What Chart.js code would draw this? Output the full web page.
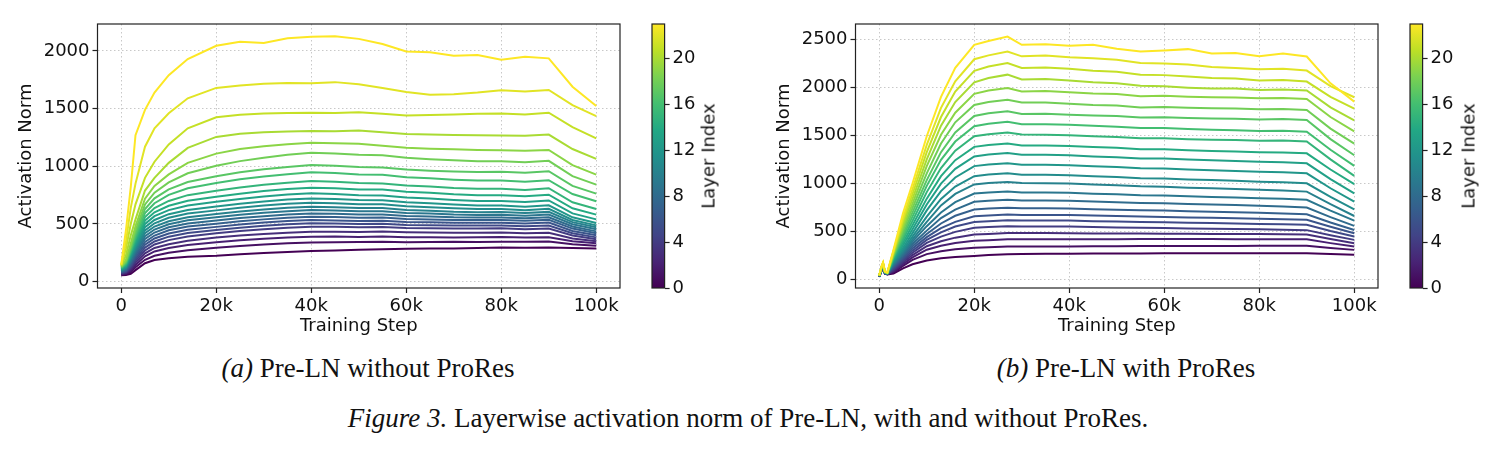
<!DOCTYPE html>
<html>
<head>
<meta charset="utf-8">
<script src="https://cdn.jsdelivr.net/npm/chart.js@4.4.1/dist/chart.umd.min.js"></script>
<style>
  body { margin: 0; background: #fff; width: 1497px; height: 449px; position: relative; overflow: hidden; }
  .panel { position: absolute; }
  .cap { position: absolute; font-family: 'Liberation Serif', 'Times New Roman', serif; font-size: 27px; color: #111; white-space: nowrap; transform: translate(-50%, -50%); }
  .cblabel { position: absolute; font-family: 'DejaVu Sans', sans-serif; font-size: 18px; color: #111; white-space: nowrap; transform: translate(-50%, -50%) rotate(-90deg); }
</style>
</head>
<body>
<div class="panel" style="left:0;top:0;width:640px;height:345px"><canvas id="chartA"></canvas></div>
<div class="panel" style="left:640px;top:0;width:110px;height:345px"><canvas id="cbarA"></canvas></div>
<div class="cblabel" style="left:708px;top:156px">Layer Index</div>

<div class="panel" style="left:758px;top:0;width:640px;height:345px"><canvas id="chartB"></canvas></div>
<div class="panel" style="left:1398px;top:0;width:110px;height:345px"><canvas id="cbarB"></canvas></div>
<div class="cblabel" style="left:1468px;top:156px">Layer Index</div>

<div class="cap" style="left:368px;top:368px"><i>(a)</i> Pre-LN without ProRes</div>
<div class="cap" style="left:1126px;top:368px"><i>(b)</i> Pre-LN with ProRes</div>
<div class="cap" style="left:748px;top:418px"><i>Figure 3.</i> Layerwise activation norm of Pre-LN, with and without ProRes.</div>

<script>
// Data: training steps, tick labels
const stepsA = [0, 1000, 2000, 3000, 5000, 7000, 10000, 14000, 20000, 25000, 30000, 35000, 40000, 45000, 50000, 55000, 60000, 65000, 70000, 75000, 80000, 85000, 90000, 95000, 100000];
const stepsB = [0, 500, 800, 1200, 1700, 3000, 5000, 7000, 10000, 13000, 16000, 20000, 23000, 27000, 30000, 35000, 40000, 45000, 50000, 55000, 60000, 65000, 70000, 75000, 80000, 85000, 90000, 95000, 100000];
const xTicks = [0, 20000, 40000, 60000, 80000, 100000];
const yTicksA = [0, 500, 1000, 1500, 2000];
const yTicksB = [0, 500, 1000, 1500, 2000, 2500];
const layerTicks = [0, 4, 8, 12, 16, 20];

// (a) Pre-LN without ProRes, one row per layer (0 .. 23)
const normsA = [
  [55, 57, 68, 100, 160, 188, 203, 215, 225, 238, 248, 258, 266, 270, 276, 280, 285, 288, 287, 292, 296, 294, 297, 292, 288],
  [60, 66, 85, 125, 190, 225, 250, 272, 295, 310, 322, 332, 340, 342, 343, 345, 342, 344, 346, 343, 347, 345, 348, 325, 312],
  [64, 72, 100, 145, 220, 262, 292, 318, 342, 358, 372, 382, 390, 392, 388, 392, 385, 386, 383, 385, 388, 382, 385, 350, 332],
  [68, 78, 112, 165, 245, 292, 325, 355, 382, 400, 414, 425, 433, 432, 430, 434, 428, 426, 424, 425, 427, 420, 424, 375, 350],
  [72, 84, 124, 182, 270, 322, 360, 392, 420, 440, 455, 468, 477, 475, 472, 474, 466, 464, 460, 460, 462, 455, 460, 400, 367],
  [76, 90, 135, 198, 295, 348, 390, 422, 448, 468, 484, 497, 506, 504, 500, 502, 492, 490, 486, 486, 487, 480, 486, 420, 384],
  [80, 96, 146, 214, 320, 374, 418, 450, 475, 496, 512, 525, 534, 531, 527, 528, 518, 515, 510, 510, 511, 505, 512, 440, 402],
  [84, 102, 158, 230, 345, 400, 446, 478, 502, 524, 540, 554, 563, 560, 555, 556, 544, 540, 535, 534, 535, 528, 536, 460, 419],
  [88, 108, 170, 246, 370, 426, 472, 505, 530, 552, 568, 582, 592, 588, 582, 583, 570, 565, 558, 556, 557, 550, 558, 478, 436],
  [92, 114, 182, 262, 395, 452, 498, 532, 558, 580, 597, 611, 621, 617, 610, 610, 596, 590, 582, 579, 580, 572, 582, 498, 454],
  [96, 120, 194, 278, 420, 478, 524, 559, 586, 608, 626, 640, 650, 646, 638, 638, 622, 615, 606, 602, 603, 595, 605, 516, 471],
  [100, 126, 206, 295, 445, 506, 554, 590, 618, 641, 660, 675, 685, 680, 672, 671, 654, 646, 636, 630, 630, 620, 632, 535, 488],
  [104, 132, 218, 312, 472, 535, 585, 622, 652, 676, 696, 712, 722, 717, 708, 706, 688, 680, 668, 660, 660, 650, 662, 558, 509],
  [108, 138, 230, 330, 500, 568, 620, 660, 692, 717, 738, 755, 766, 760, 750, 748, 730, 720, 708, 700, 700, 690, 704, 592, 540],
  [112, 145, 243, 350, 530, 602, 658, 702, 736, 763, 785, 803, 815, 810, 800, 798, 780, 770, 757, 750, 750, 740, 754, 636, 581],
  [116, 152, 256, 370, 560, 638, 700, 750, 788, 816, 840, 858, 872, 866, 856, 852, 834, 825, 812, 806, 806, 795, 810, 688, 630],
  [120, 160, 270, 392, 595, 680, 752, 810, 856, 888, 912, 932, 948, 942, 930, 926, 906, 896, 884, 876, 876, 866, 880, 760, 697],
  [124, 168, 286, 415, 630, 722, 800, 864, 914, 948, 974, 995, 1011, 1005, 994, 990, 972, 962, 955, 950, 952, 945, 958, 830, 763],
  [128, 178, 305, 445, 670, 772, 860, 940, 1005, 1045, 1075, 1100, 1118, 1112, 1100, 1096, 1075, 1062, 1052, 1045, 1045, 1035, 1048, 915, 841],
  [132, 190, 330, 480, 720, 830, 930, 1030, 1110, 1150, 1175, 1192, 1205, 1200, 1195, 1178, 1160, 1152, 1148, 1142, 1140, 1135, 1142, 1010, 928],
  [136, 230, 400, 540, 790, 900, 1030, 1160, 1255, 1282, 1296, 1302, 1306, 1304, 1310, 1295, 1280, 1275, 1272, 1270, 1268, 1265, 1275, 1150, 1064],
  [142, 290, 500, 670, 900, 1040, 1190, 1330, 1425, 1448, 1458, 1462, 1465, 1462, 1468, 1455, 1440, 1445, 1450, 1455, 1458, 1450, 1465, 1340, 1243],
  [146, 350, 640, 850, 1170, 1330, 1460, 1590, 1680, 1700, 1715, 1722, 1720, 1730, 1712, 1680, 1645, 1620, 1625, 1640, 1660, 1648, 1662, 1530, 1436],
  [150, 450, 820, 1270, 1490, 1640, 1790, 1930, 2045, 2080, 2070, 2110, 2124, 2128, 2105, 2060, 1995, 1990, 1958, 1965, 1925, 1950, 1936, 1690, 1523]
];

// (b) Pre-LN with ProRes, one row per layer (0 .. 23)
const normsB = [
  [30, 95, 110, 62, 55, 65, 118, 160, 200, 222, 235, 246, 256, 265, 268, 270, 270, 272, 273, 273, 274, 274, 274, 275, 275, 274, 274, 268, 259],
  [31, 97, 113, 63, 56, 76, 143, 206, 266, 296, 316, 333, 338, 345, 345, 345, 345, 347, 348, 349, 350, 350, 351, 351, 352, 352, 352, 330, 310],
  [31, 99, 116, 64, 57, 86, 162, 232, 312, 352, 381, 405, 411, 420, 420, 420, 420, 421, 421, 422, 422, 422, 422, 421, 421, 421, 420, 380, 345],
  [32, 101, 119, 65, 58, 97, 179, 256, 348, 400, 437, 470, 476, 485, 484, 484, 483, 481, 480, 479, 478, 477, 476, 475, 474, 472, 470, 424, 379],
  [33, 103, 122, 66, 59, 107, 194, 280, 383, 448, 497, 540, 547, 555, 553, 553, 552, 547, 543, 540, 537, 533, 530, 527, 523, 519, 515, 462, 414],
  [33, 105, 125, 67, 60, 118, 210, 302, 414, 492, 552, 600, 608, 618, 614, 614, 614, 608, 604, 600, 597, 592, 588, 584, 580, 575, 570, 506, 448],
  [34, 107, 128, 68, 60, 129, 225, 325, 442, 535, 601, 660, 668, 678, 673, 673, 672, 666, 661, 656, 652, 647, 643, 638, 633, 628, 622, 550, 483],
  [35, 109, 131, 69, 61, 139, 240, 348, 475, 584, 664, 730, 740, 748, 742, 742, 741, 733, 728, 722, 718, 712, 707, 701, 695, 688, 680, 595, 517],
  [36, 111, 134, 70, 62, 150, 256, 372, 510, 640, 729, 810, 820, 830, 822, 822, 821, 812, 805, 798, 795, 787, 782, 775, 768, 760, 750, 650, 559],
  [36, 113, 137, 71, 63, 160, 272, 395, 556, 698, 806, 895, 907, 915, 906, 906, 904, 894, 887, 878, 875, 866, 860, 854, 846, 840, 830, 718, 614],
  [37, 115, 140, 72, 64, 171, 289, 420, 600, 772, 891, 990, 1004, 1015, 1004, 1003, 1000, 988, 980, 970, 966, 956, 950, 942, 934, 926, 915, 785, 662],
  [38, 117, 143, 73, 65, 182, 307, 447, 656, 839, 968, 1075, 1092, 1105, 1090, 1090, 1086, 1074, 1066, 1055, 1052, 1042, 1035, 1027, 1018, 1012, 1001, 860, 731],
  [38, 119, 146, 74, 66, 192, 330, 484, 720, 920, 1062, 1180, 1196, 1210, 1195, 1195, 1190, 1178, 1170, 1158, 1155, 1145, 1138, 1130, 1122, 1116, 1105, 950, 810],
  [39, 121, 149, 75, 67, 203, 358, 525, 781, 998, 1152, 1280, 1300, 1315, 1298, 1298, 1293, 1280, 1272, 1260, 1258, 1248, 1240, 1233, 1225, 1220, 1209, 1045, 897],
  [40, 123, 152, 76, 68, 213, 386, 566, 842, 1076, 1242, 1380, 1400, 1415, 1395, 1395, 1390, 1378, 1370, 1356, 1355, 1345, 1338, 1332, 1325, 1322, 1313, 1145, 993],
  [41, 125, 155, 77, 68, 224, 417, 610, 910, 1160, 1340, 1490, 1512, 1530, 1508, 1506, 1500, 1490, 1482, 1470, 1470, 1460, 1455, 1450, 1443, 1445, 1435, 1250, 1079],
  [41, 127, 158, 78, 69, 235, 447, 655, 975, 1245, 1435, 1595, 1620, 1640, 1615, 1615, 1610, 1598, 1590, 1575, 1575, 1565, 1558, 1552, 1545, 1546, 1538, 1350, 1183],
  [42, 129, 161, 79, 70, 245, 475, 700, 1035, 1325, 1530, 1700, 1730, 1750, 1722, 1725, 1714, 1705, 1700, 1685, 1688, 1680, 1675, 1672, 1665, 1668, 1660, 1460, 1293],
  [43, 131, 164, 80, 71, 256, 510, 745, 1105, 1415, 1635, 1815, 1845, 1870, 1840, 1840, 1828, 1815, 1810, 1790, 1795, 1785, 1780, 1778, 1770, 1772, 1764, 1570, 1414],
  [43, 133, 167, 81, 72, 266, 540, 790, 1180, 1505, 1735, 1930, 1965, 1990, 1955, 1960, 1948, 1935, 1930, 1905, 1910, 1900, 1895, 1893, 1885, 1888, 1878, 1690, 1541],
  [44, 135, 170, 82, 73, 277, 575, 840, 1250, 1600, 1845, 2050, 2095, 2130, 2080, 2085, 2069, 2050, 2040, 2015, 2010, 1995, 1985, 1985, 1970, 1975, 1965, 1790, 1655],
  [45, 137, 173, 83, 74, 288, 610, 890, 1325, 1690, 1955, 2170, 2215, 2250, 2200, 2205, 2190, 2170, 2160, 2130, 2125, 2110, 2095, 2090, 2070, 2075, 2058, 1900, 1776],
  [45, 139, 176, 84, 75, 298, 640, 940, 1400, 1785, 2060, 2290, 2330, 2370, 2320, 2330, 2310, 2300, 2285, 2250, 2245, 2235, 2210, 2200, 2185, 2190, 2172, 2010, 1895],
  [46, 141, 179, 85, 76, 310, 690, 1000, 1490, 1900, 2200, 2440, 2480, 2526, 2440, 2445, 2431, 2440, 2400, 2370, 2380, 2395, 2350, 2355, 2320, 2350, 2318, 2040, 1850]
];

// Viridis colormap stops
const viridis = ['#440154', '#482475', '#414487', '#355f8d', '#2a788e', '#21918c', '#22a884', '#44bf70', '#7ad151', '#bddf26', '#fde725'];

function hexToRgb(h) {
    return [parseInt(h.slice(1, 3), 16), parseInt(h.slice(3, 5), 16), parseInt(h.slice(5, 7), 16)];
}

function cmap(t) {
    const pos = t * (viridis.length - 1);
    const i = Math.min(Math.floor(pos), viridis.length - 2);
    const f = pos - i;
    const a = hexToRgb(viridis[i]);
    const b = hexToRgb(viridis[i + 1]);
    const c = a.map((v, k) => Math.round(v + (b[k] - v) * f));
    return `rgb(${c[0]}, ${c[1]}, ${c[2]})`;
}

Chart.defaults.font.family = "'DejaVu Sans', sans-serif";
Chart.defaults.color = '#111';

const tickFont = { family: "'DejaVu Sans', sans-serif", size: 18 };

// Frame around the plot area (all four spines)
const framePlugin = {
    id: 'frame',
    afterDraw(chart) {
        const { ctx, chartArea: a } = chart;
        ctx.save();
        ctx.strokeStyle = '#222';
        ctx.lineWidth = 1.2;
        ctx.strokeRect(a.left, a.top, a.right - a.left, a.bottom - a.top);
        ctx.restore();
    }
};

// Colorbar gradient
const gradientPlugin = {
    id: 'gradient',
    beforeDraw(chart) {
        const { ctx, chartArea: a } = chart;
        const g = ctx.createLinearGradient(0, a.bottom, 0, a.top);
        viridis.forEach((c, i) => g.addColorStop(i / (viridis.length - 1), c));
        ctx.save();
        ctx.fillStyle = g;
        ctx.fillRect(a.left, a.top, a.right - a.left, a.bottom - a.top);
        ctx.restore();
    }
};

function buildDatasets(steps, norms) {
    const n = norms.length;
    // last layer first so that it is drawn on top
    return norms.map((row, layer) => ({
        label: 'Layer ' + layer,
        data: steps.map((s, i) => ({ x: s, y: row[i] })),
        borderColor: cmap(layer / (n - 1)),
        borderWidth: 2,
        pointRadius: 0,
        tension: 0,
        fill: false
    })).reverse();
}

function drawPanel(id, steps, norms, yMin, yMax, yTicks) {
    new Chart(document.getElementById(id), {
        type: 'line',
        data: { datasets: buildDatasets(steps, norms) },
        options: {
            responsive: true,
            maintainAspectRatio: false,
            animation: false,
            layout: { padding: { left: 0, top: 24, right: 20, bottom: 0 } },
            plugins: { legend: { display: false }, tooltip: { enabled: false } },
            scales: {
                x: {
                    type: 'linear',
                    min: -5000,
                    max: 105000,
                    afterBuildTicks: ax => { ax.ticks = xTicks.map(v => ({ value: v })); },
                    afterFit: s => { s.height = 57; },
                    grid: { color: '#c8c8c8', lineWidth: 1, tickLength: 5, tickColor: '#222', tickWidth: 1.2, tickBorderDash: [] },
                    border: { display: false, dash: [1.5, 2.5] },
                    ticks: {
                        font: tickFont,
                        color: '#111',
                        padding: 3,
                        maxRotation: 0,
                        callback: v => v === 0 ? '0' : (v / 1000) + 'k'
                    },
                    title: { display: true, text: 'Training Step', font: tickFont, color: '#111', padding: { top: 0, bottom: 8 } }
                },
                y: {
                    min: yMin,
                    max: yMax,
                    afterBuildTicks: ax => { ax.ticks = yTicks.map(v => ({ value: v })); },
                    afterFit: s => { s.width = 97.5; },
                    grid: { color: '#c8c8c8', lineWidth: 1, tickLength: 5, tickColor: '#222', tickWidth: 1.2, tickBorderDash: [] },
                    border: { display: false, dash: [1.5, 2.5] },
                    ticks: { font: tickFont, color: '#111', padding: 3, callback: v => String(v) },
                    title: { display: true, text: 'Activation Norm', font: tickFont, color: '#111', padding: { top: 16, bottom: 0 } }
                }
            }
        },
        plugins: [framePlugin]
    });
}

function drawColorbar(id) {
    new Chart(document.getElementById(id), {
        type: 'line',
        data: { datasets: [] },
        options: {
            responsive: true,
            maintainAspectRatio: false,
            animation: false,
            layout: { padding: { left: 12, top: 24, right: 0, bottom: 57 } },
            plugins: { legend: { display: false }, tooltip: { enabled: false } },
            scales: {
                x: { type: 'linear', display: false },
                y: {
                    position: 'right',
                    min: 0,
                    max: 23,
                    afterBuildTicks: ax => { ax.ticks = layerTicks.map(v => ({ value: v })); },
                    afterFit: s => { s.width = 85.4; },
                    grid: { drawOnChartArea: false, tickLength: 5, tickColor: '#222', tickWidth: 1.2 },
                    border: { display: false },
                    ticks: { font: tickFont, color: '#111', padding: 3, callback: v => String(v) }
                }
            }
        },
        plugins: [gradientPlugin, framePlugin]
    });
}

drawPanel('chartA', stepsA, normsA, -55, 2234, yTicksA);
drawColorbar('cbarA');
drawPanel('chartB', stepsB, normsB, -86, 2656, yTicksB);
drawColorbar('cbarB');
</script>
</body>
</html>
